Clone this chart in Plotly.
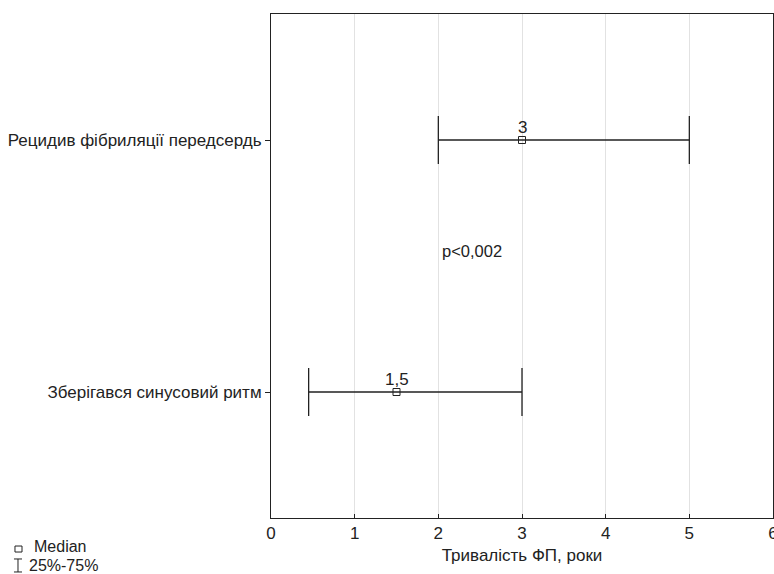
import plotly.graph_objects as go

categories = ["Зберігався синусовий ритм", "Рецидив фібриляції передсердь"]
medians = [1.5, 3.0]
q25 = [0.45, 2.0]
q75 = [3.0, 5.0]
median_labels = ["1,5", "3"]
x_ticks = [0, 1, 2, 3, 4, 5, 6]
p_text = "p<0,002"
p_pos = (2.4, 0.56)

ypos = list(range(len(categories)))
font = "Liberation Sans, Arial, sans-serif"
ink = "#222"

fig = go.Figure()
fig.add_trace(go.Scatter(
    x=medians, y=ypos, mode="markers",
    marker=dict(symbol="square-open", size=7, color=ink, line=dict(width=1, color=ink)),
    error_x=dict(type="data", symmetric=False,
                 array=[h - m for h, m in zip(q75, medians)],
                 arrayminus=[m - l for m, l in zip(medians, q25)],
                 color=ink, thickness=1.3, width=24),
    showlegend=False, hoverinfo="skip",
))

for m, y, t in zip(medians, ypos, median_labels):
    fig.add_annotation(x=m, y=y, text=t, showarrow=False, yshift=13,
                       font=dict(family=font, size=17, color=ink))

fig.add_annotation(x=p_pos[0], y=p_pos[1], text=p_text, showarrow=False,
                   font=dict(family=font, size=16.5, color=ink))

# key (bottom left)
fig.add_shape(type="rect", xref="paper", yref="paper", x0=-0.5100, x1=-0.4960,
              y0=-0.0556, y1=-0.0675, line=dict(color=ink, width=1), fillcolor="white")
fig.add_shape(type="line", xref="paper", yref="paper", x0=-0.504, x1=-0.504,
              y0=-0.0813, y1=-0.1071, line=dict(color=ink, width=1))
fig.add_shape(type="line", xref="paper", yref="paper", x0=-0.512, x1=-0.496,
              y0=-0.0813, y1=-0.0813, line=dict(color=ink, width=1))
fig.add_shape(type="line", xref="paper", yref="paper", x0=-0.512, x1=-0.496,
              y0=-0.1071, y1=-0.1071, line=dict(color=ink, width=1))
fig.add_annotation(xref="paper", yref="paper", x=-0.4761, y=-0.0556, xanchor="left", yanchor="middle",
                   text="Median", showarrow=False, font=dict(family=font, size=16, color=ink))
fig.add_annotation(xref="paper", yref="paper", x=-0.4861, y=-0.0933, xanchor="left", yanchor="middle",
                   text="25%-75%", showarrow=False, font=dict(family=font, size=16, color=ink))

fig.update_layout(
    width=774, height=574,
    margin=dict(l=271, r=1, t=14, b=56, autoexpand=False),
    paper_bgcolor="white", plot_bgcolor="white",
    font=dict(family=font, size=17, color=ink),
    xaxis=dict(range=[0, 6], tickvals=x_ticks, ticks="inside", ticklen=4, tickcolor=ink,
               showgrid=True, gridcolor="#e2e2e2", gridwidth=1, zeroline=False,
               showline=True, linecolor=ink, linewidth=1, mirror=True, automargin=False,
               ticklabeloverflow="allow",
               title=dict(text="Тривалість ФП, роки", font=dict(size=17), standoff=6),
               tickfont=dict(size=17)),
    yaxis=dict(range=[-0.5, 1.5], tickvals=ypos, ticktext=categories, ticks="outside",
               ticklen=5, tickcolor=ink, showgrid=False, zeroline=False, automargin=False,
               showline=True, linecolor=ink, linewidth=1, mirror="ticks",
               tickfont=dict(size=17)),
)

fig.write_html("out.html", config={"displayModeBar": False},
               post_script="document.body.style.margin='0px';")
